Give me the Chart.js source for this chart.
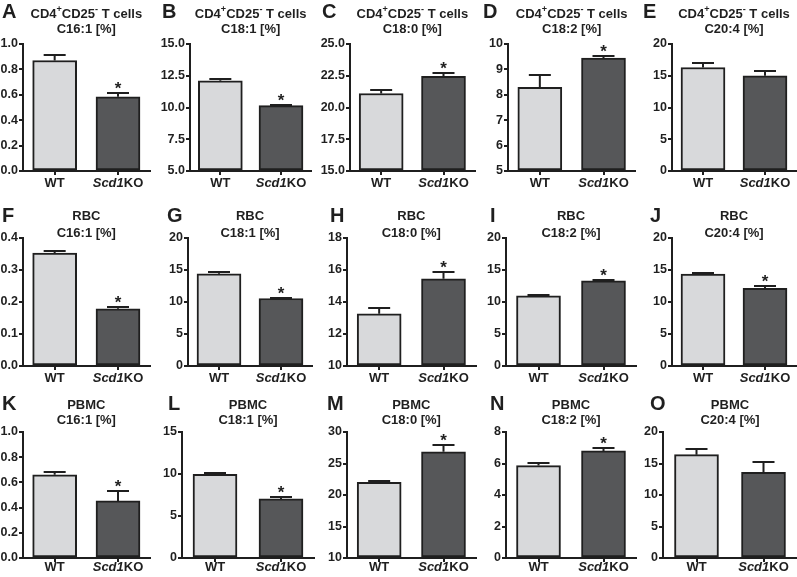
<!DOCTYPE html>
<html><head><meta charset="utf-8">
<script src="https://cdn.jsdelivr.net/npm/chart.js@4.4.0/dist/chart.umd.min.js"></script>
<style>
html,body{margin:0;padding:0;background:#fff;}
#wrap{position:relative;width:797px;height:577px;overflow:hidden;background:#fff;}
#wrap canvas{position:absolute;left:0;top:0;}
</style></head><body><div id="wrap"></div>
<script>
// ---------- DATA ----------
const categories = ['WT', 'Scd1KO'];
const panelLetters = ['A','B','C','D','E','F','G','H','I','J','K','L','M','N','O'];
const cellTypes = ['CD4⁺CD25⁻ T cells', 'RBC', 'PBMC'];
const fattyAcids = ['C16:1 [%]', 'C18:1 [%]', 'C18:0 [%]', 'C18:2 [%]', 'C20:4 [%]'];
const wtMean = [0.87, 12.1, 21.1, 8.29, 16.3,   0.353, 14.4, 13.26, 10.95, 14.35,   0.66, 9.95, 22.0, 5.87, 16.4];
const wtSem  = [0.045, 0.15, 0.25, 0.48, 0.75,  0.007, 0.25, 0.35, 0.15, 0.25,      0.025, 0.15, 0.3, 0.15, 0.9];
const koMean = [0.585, 10.15, 22.45, 9.45, 15.0, 0.179, 10.55, 15.45, 13.3, 12.15,  0.453, 7.03, 26.86, 6.8, 13.6];
const koSem  = [0.03, 0.07, 0.3, 0.06, 0.75,    0.004, 0.15, 0.4, 0.12, 0.4,        0.075, 0.25, 1.1, 0.2, 1.7];
const koSignificant = [true, true, true, true, false, true, true, true, true, true, true, true, true, true, false];
const yTickLabels = [
  ['0.0','0.2','0.4','0.6','0.8','1.0'],
  ['5.0','7.5','10.0','12.5','15.0'],
  ['15.0','17.5','20.0','22.5','25.0'],
  ['5','6','7','8','9','10'],
  ['0','5','10','15','20'],
  ['0.0','0.1','0.2','0.3','0.4'],
  ['0','5','10','15','20'],
  ['10','12','14','16','18'],
  ['0','5','10','15','20'],
  ['0','5','10','15','20'],
  ['0.0','0.2','0.4','0.6','0.8','1.0'],
  ['0','5','10','15'],
  ['10','15','20','25','30'],
  ['0','2','4','6','8'],
  ['0','5','10','15','20']
];

// ---------- LAYOUT / STYLE ----------
const W = 797, H = 577;
const axisX = [23,190,350,508,672, 23,188,347,506,672, 23,182,347,506,663];
const koCenterX = [118, 281, 443.5, 603.5, 765];
const letterX = [2,162,322,483,643, 2,167,330,490,650, 2,168,327,490,650];
const plotTop = [44, 238, 432];
const plotBottom = [171, 366, 558];
const titleY = [[14,29],[216,233],[405,420]];
const labelY = [183, 378, 567];
const letterY = [12, 216, 404];
const INK = '#1f1f1f';
const FONT = '"Liberation Sans", Arial, Helvetica, sans-serif';
const YAXIS_W = 30, XAXIS_H = 6;

function drawRich(ctx, segs, cx, y, size) {
  let total = 0;
  segs.forEach(s => { ctx.font = (s.it ? 'italic ' : '') + 'bold ' + (s.sup ? size*0.7 : size) + 'px ' + FONT; s.w = ctx.measureText(s.t).width; total += s.w; });
  let x = cx - total/2;
  segs.forEach(s => {
    ctx.font = (s.it ? 'italic ' : '') + 'bold ' + (s.sup ? size*0.7 : size) + 'px ' + FONT;
    ctx.fillText(s.t, x, s.sup ? y - size*0.35 : y);
    x += s.w;
  });
}
function parseSup(str) {
  const segs = []; let cur = '';
  for (const ch of str) {
    if (ch === '⁺' || ch === '⁻') { if (cur) segs.push({t:cur}); cur=''; segs.push({t: ch==='⁺' ? '+' : '-', sup:true}); }
    else cur += ch;
  }
  if (cur) segs.push({t:cur});
  return segs;
}
function parseLabel(str) {
  const m = str.match(/^(Scd1)(.*)$/);
  return m ? [{t:m[1], it:true},{t:m[2]}] : [{t:str}];
}

const annot = {
  id: 'annot',
  afterDraw(chart, args, opts) {
    const p = opts.p, row = Math.floor(p/5), col = p%5;
    const {ctx, chartArea} = chart;
    const ys = chart.scales.y;
    const meta = chart.getDatasetMeta(0);
    ctx.save();
    ctx.fillStyle = INK; ctx.strokeStyle = INK; ctx.lineWidth = 2;
    const means = [wtMean[p], koMean[p]], sems = [wtSem[p], koSem[p]];
    means.forEach((m, i) => {
      const x = meta.data[i].x;
      const yTop = ys.getPixelForValue(m);
      const yCap = Math.round(ys.getPixelForValue(m + sems[i]));
      ctx.beginPath();
      ctx.moveTo(x, yTop); ctx.lineTo(x, yCap);
      ctx.moveTo(x - 11, yCap); ctx.lineTo(x + 11, yCap);
      ctx.stroke();
      if (i === 1 && koSignificant[p]) {
        ctx.font = 'bold 17px ' + FONT; ctx.textAlign = 'center'; ctx.textBaseline = 'alphabetic';
        ctx.fillText('*', x, yCap + 1);
      }
      ctx.textAlign = 'left'; ctx.textBaseline = 'middle';
      drawRich(ctx, parseLabel(categories[i]), x, labelY[row], 13);
    });
    const cx = (chartArea.left + chartArea.right)/2;
    ctx.textAlign = 'left'; ctx.textBaseline = 'middle';
    drawRich(ctx, parseSup(cellTypes[row]), cx, titleY[row][0], 13);
    drawRich(ctx, parseSup(fattyAcids[col]), cx, titleY[row][1], 13);
    ctx.font = 'bold 20px ' + FONT; ctx.textAlign = 'left'; ctx.textBaseline = 'middle';
    ctx.fillText(panelLetters[p], letterX[p], letterY[row]);
    ctx.restore();
  }
};

const wrap = document.getElementById('wrap');
for (let p = 0; p < 15; p++) {
  const row = Math.floor(p/5), col = p%5;
  const cv = document.createElement('canvas');
  cv.width = W; cv.height = H; cv.style.width = W+'px'; cv.style.height = H+'px';
  wrap.appendChild(cv);
  const labels = yTickLabels[p];
  const yMin = parseFloat(labels[0]), yMax = parseFloat(labels[labels.length-1]);
  const ax = axisX[p];
  const w = (koCenterX[col] - ax) * 4/3;
  new Chart(cv, {
    type: 'bar',
    data: {
      labels: categories,
      datasets: [{
        data: [wtMean[p], koMean[p]],
        base: yMin,
        backgroundColor: ['#d8d9db', '#565759'],
        borderColor: INK,
        borderWidth: 2,
        borderSkipped: false,
        barThickness: 44
      }]
    },
    options: {
      responsive: false, animation: false, devicePixelRatio: 1,
      layout: { padding: { left: ax - YAXIS_W, right: W - (ax + w), top: plotTop[row], bottom: H - plotBottom[row] - XAXIS_H } },
      plugins: { legend: {display:false}, tooltip: {enabled:false}, title: {display:false}, annot: { p } },
      scales: {
        x: {
          type: 'category', offset: true,
          grid: { display: true, offset: false, drawOnChartArea: false, drawTicks: true, tickLength: 4, color: INK, lineWidth: 2 },
          border: { display: true, color: INK, width: 2 },
          ticks: { display: false },
          afterFit: s => { s.height = XAXIS_H; }
        },
        y: {
          min: yMin, max: yMax,
          afterBuildTicks: s => { s.ticks = labels.map(l => ({ value: parseFloat(l) })); },
          ticks: { autoSkip: false, callback: (v, i) => labels[i], color: INK, padding: 1,
                   font: { family: FONT, weight: 'bold', size: 12.5 } },
          grid: { display: true, drawOnChartArea: false, drawTicks: true, tickLength: 4, color: INK, lineWidth: 2 },
          border: { display: true, color: INK, width: 2 },
          afterFit: s => { s.width = YAXIS_W; }
        }
      }
    },
    plugins: [annot]
  });
}
</script></body></html>
